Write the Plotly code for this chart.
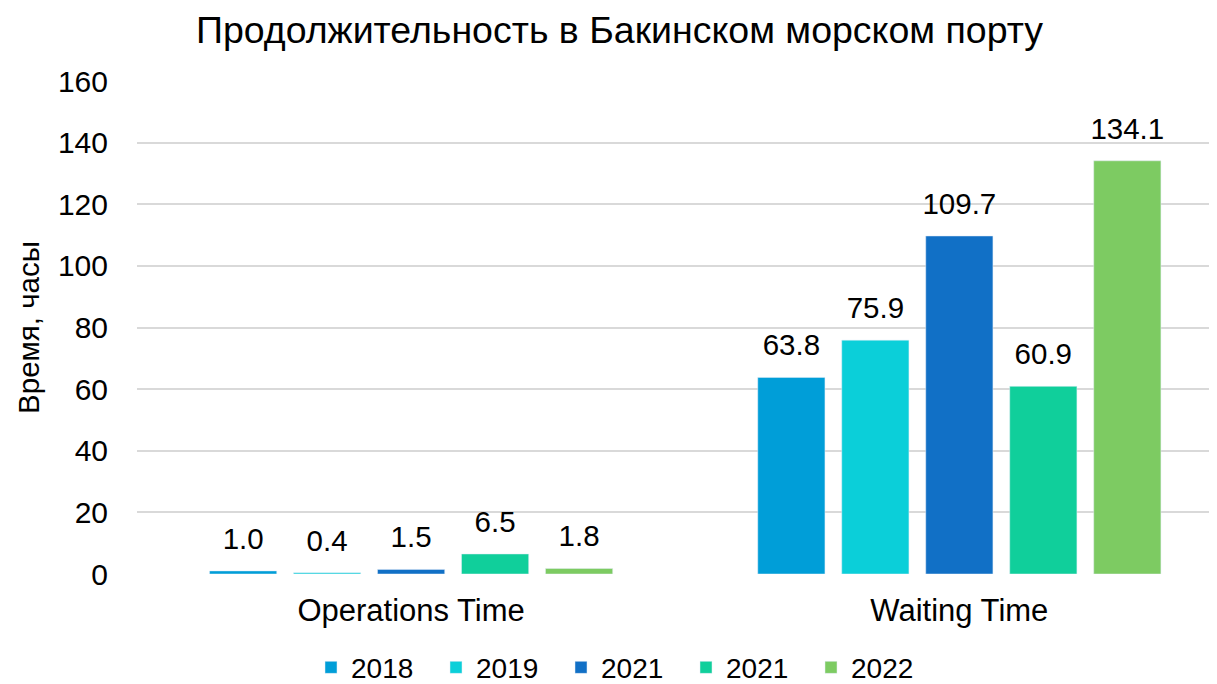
import plotly.graph_objects as go

categories = ["Operations Time", "Waiting Time"]
series_names = ["2018", "2019", "2021", "2021", "2022"]
values = [
    [1.0, 63.8],
    [0.4, 75.9],
    [1.5, 109.7],
    [6.5, 60.9],
    [1.8, 134.1],
]
colors = ["#009ED8", "#0BCFD9", "#1170C6", "#10CF9B", "#7DCB62"]

FS = 29.5
W, H = 1209, 676  # page body has an 8px margin
L, T, B = 129, 73, 110

fig = go.Figure()
for i, (name, vals, col) in enumerate(zip(series_names, values, colors)):
    fig.add_trace(go.Bar(
        x=categories, y=vals, name=name, marker_color=col,
        legendgroup=str(i), offsetgroup=str(i),
    ))
for i, (name, vals, col) in enumerate(zip(series_names, values, colors)):
    fig.add_trace(go.Scatter(
        x=categories, y=vals, mode="markers+text", showlegend=False,
        marker=dict(size=22, color="rgba(0,0,0,0)"),
        text=[f"{v:.1f}" for v in vals], textposition="top center",
        textfont=dict(size=FS, color="#000000"), cliponaxis=False,
        offsetgroup=str(i), hoverinfo="skip",
    ))

font = "Liberation Sans, Arial, sans-serif"
fig.update_layout(
    width=W, height=H,
    barmode="group", bargap=0.234, bargroupgap=0.2,
    scattermode="group", scattergap=0.234,
    plot_bgcolor="white", paper_bgcolor="white",
    font=dict(family=font, size=FS, color="#000000"),
    title=dict(text="Продолжительность в Бакинском морском порту",
               x=611.5 / W, xanchor="center", y=1 - 21.5 / H, yanchor="middle",
               font=dict(size=37.5)),
    margin=dict(l=L, r=0, t=T, b=B, autoexpand=False),
    xaxis=dict(showline=False, tickfont=dict(size=31), ticks="",
               range=[-0.5, 1.47], ticklabelstandoff=15, automargin=False),
    yaxis=dict(range=[0, 160], dtick=20, showgrid=True, gridcolor="#D9D9D9",
               gridwidth=1.5, zeroline=False, tickfont=dict(size=30),
               ticks="", ticklabelstandoff=28, automargin=False,
               title=dict(text="Время, часы", font=dict(size=FS), standoff=9)),
    legend=dict(orientation="h", x=(303 - L) / (W - L), xanchor="left",
                y=-0.19, yanchor="middle", entrywidth=80, entrywidthmode="pixels",
                font=dict(size=28), traceorder="normal", itemwidth=30),
)
fig.write_html("out.html")
